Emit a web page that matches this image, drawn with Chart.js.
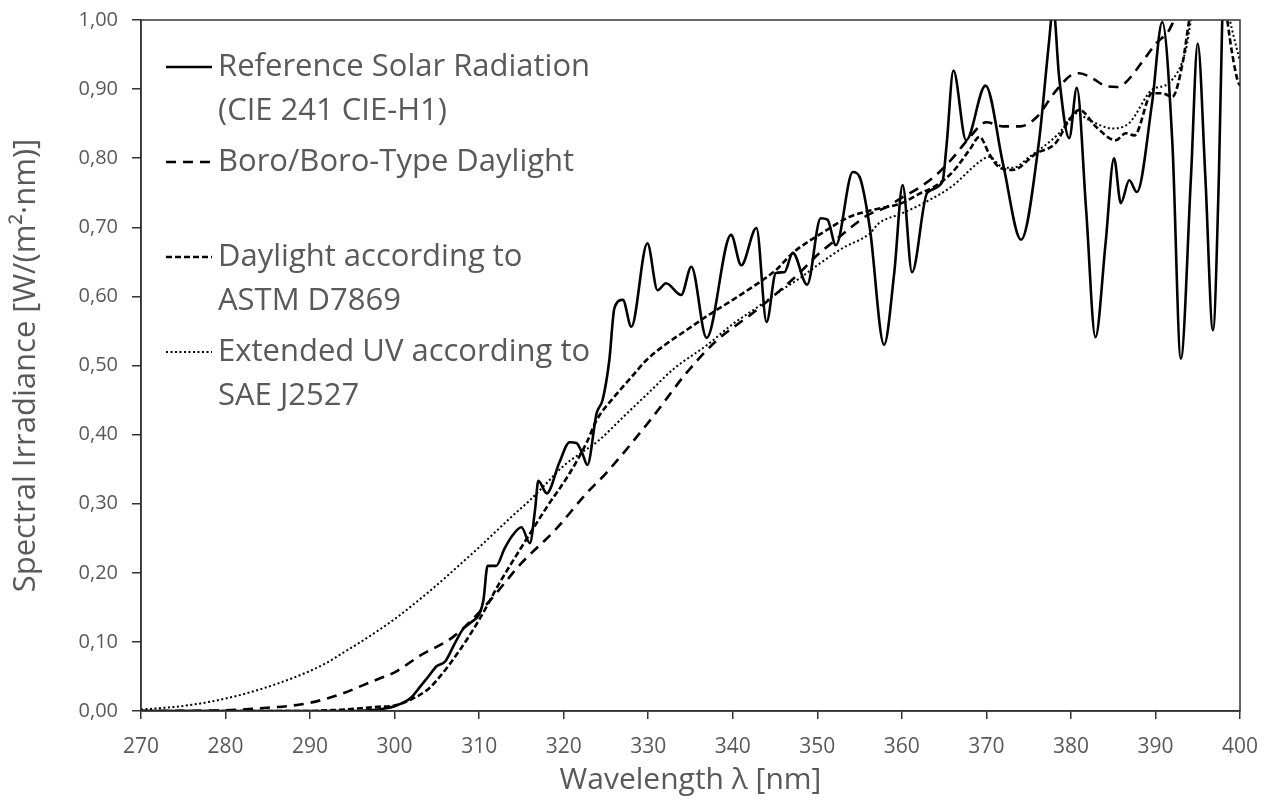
<!DOCTYPE html>
<html>
<head>
<meta charset="utf-8">
<script src="https://cdn.jsdelivr.net/npm/chart.js@4/dist/chart.umd.min.js"></script>
<style>
  html, body { margin: 0; padding: 0; background: #fff; }
  #wrap { width: 1270px; height: 800px; }
</style>
</head>
<body>
<div id="wrap"><canvas id="chart" width="1270" height="800"></canvas></div>
<script>
// wavelength [nm] / spectral irradiance [W/(m²·nm)]
const refX = [270, 280, 290, 295, 297, 299, 300, 301, 302, 303, 304, 305, 306, 307, 308, 309, 310, 310.5, 311, 312, 313, 314, 315, 316, 316.6, 317, 318, 319.5, 320.7, 321.5, 322.2, 322.8, 323.9, 324.6, 325.4, 326, 327, 328, 329.9, 331.1, 332.1, 333.9, 335.1, 336.9, 339.8, 341, 342.8, 344, 345.1, 346.1, 347.1, 348.8, 350.4, 351.2, 352.2, 354.2, 355, 356.2, 357.9, 359.1, 360.1, 361.2, 363, 364.8, 365.3, 366.1, 367.6, 369.9, 372, 374.1, 376.2, 377.4, 377.9, 378.6, 379.8, 380.7, 381.8, 382.9, 384.1, 385.1, 385.9, 386.9, 387.8, 389.6, 390.8, 392, 393, 394.2, 395, 395.9, 396.8, 397.5, 397.9, 398.3, 400];
const refY = [0, 0, 0, 0, 0.001, 0.004, 0.007, 0.012, 0.02, 0.035, 0.05, 0.065, 0.072, 0.095, 0.117, 0.128, 0.14, 0.16, 0.21, 0.21, 0.235, 0.255, 0.266, 0.243, 0.29, 0.333, 0.315, 0.36, 0.389, 0.388, 0.373, 0.356, 0.431, 0.45, 0.508, 0.583, 0.595, 0.556, 0.677, 0.609, 0.619, 0.602, 0.643, 0.54, 0.689, 0.645, 0.699, 0.563, 0.634, 0.635, 0.663, 0.617, 0.713, 0.711, 0.674, 0.78, 0.773, 0.70, 0.53, 0.634, 0.761, 0.635, 0.75, 0.766, 0.82, 0.927, 0.826, 0.905, 0.79, 0.682, 0.822, 0.967, 1.02, 0.918, 0.829, 0.902, 0.725, 0.541, 0.677, 0.80, 0.735, 0.768, 0.751, 0.88, 0.997, 0.822, 0.51, 0.773, 0.966, 0.773, 0.551, 0.773, 1.0, 1.1, 1.1];

const boroX = [270, 280, 284, 288, 290, 292, 294, 296, 298, 300, 303, 307, 311, 315, 319, 322.7, 325, 330.5, 334.5, 338, 342.8, 347.9, 350, 352, 354, 356, 358, 360, 362, 364, 366, 368, 370, 372, 374, 376, 378, 380, 381, 382.5, 384, 385.5, 386.5, 388.9, 390, 391.6, 392.2, 393];
const boroY = [0, 0.001, 0.004, 0.008, 0.012, 0.018, 0.026, 0.036, 0.046, 0.056, 0.08, 0.108, 0.156, 0.214, 0.262, 0.315, 0.344, 0.425, 0.489, 0.535, 0.58, 0.634, 0.66, 0.68, 0.70, 0.718, 0.728, 0.743, 0.757, 0.775, 0.80, 0.83, 0.852, 0.846, 0.846, 0.86, 0.894, 0.92, 0.923, 0.916, 0.905, 0.903, 0.91, 0.947, 0.965, 0.985, 1.0, 1.02];

const astmX = [270, 290, 292, 294, 296, 298, 300, 302, 304, 305.3, 307.7, 310, 312.4, 315, 318, 320.7, 322.7, 323.9, 326, 328, 329.8, 332, 334.5, 337, 340, 342.5, 345.1, 347.1, 350.6, 353.8, 356.5, 360, 362, 364, 366, 368, 369.2, 370.3, 371.5, 373.1, 375.9, 378.2, 379.8, 381, 383, 385.3, 386.5, 387.5, 389.6, 390.8, 392, 393.2, 394, 395, 398, 398.5, 399.7, 400];
const astmY = [0, 0, 0.001, 0.002, 0.004, 0.006, 0.008, 0.017, 0.032, 0.049, 0.088, 0.132, 0.185, 0.237, 0.295, 0.344, 0.388, 0.421, 0.455, 0.483, 0.508, 0.53, 0.551, 0.572, 0.595, 0.615, 0.638, 0.663, 0.692, 0.715, 0.725, 0.735, 0.748, 0.76, 0.78, 0.812, 0.831, 0.807, 0.787, 0.783, 0.807, 0.822, 0.855, 0.87, 0.845, 0.826, 0.836, 0.833, 0.894, 0.894, 0.889, 0.937, 1.0, 1.06, 1.06, 1.0, 0.913, 0.905];

const saeX = [270, 272, 274, 276, 278, 280, 282, 284, 286, 288, 290, 292, 294, 296, 298, 300, 302, 304, 306, 308, 310, 312, 314, 316, 318, 320, 322, 324, 327, 330, 333, 337, 340, 343, 345.5, 348, 350, 353, 356.2, 357.3, 360, 363.2, 366, 369.2, 370.3, 371.9, 373.1, 375.1, 378.6, 380.6, 382.2, 384.9, 386.9, 389.6, 391.6, 393.6, 394.2, 395, 398, 398.8, 400];
const saeY = [0.002, 0.004, 0.006, 0.009, 0.013, 0.018, 0.024, 0.031, 0.039, 0.048, 0.058, 0.07, 0.085, 0.1, 0.116, 0.133, 0.152, 0.172, 0.193, 0.215, 0.237, 0.26, 0.283, 0.305, 0.33, 0.355, 0.373, 0.39, 0.425, 0.46, 0.495, 0.53, 0.56, 0.585, 0.607, 0.627, 0.645, 0.67, 0.691, 0.706, 0.72, 0.739, 0.76, 0.795, 0.802, 0.787, 0.786, 0.802, 0.836, 0.865, 0.855, 0.843, 0.851, 0.899, 0.909, 0.957, 1.0, 1.05, 1.05, 1.0, 0.94];

const xTicks = [270, 280, 290, 300, 310, 320, 330, 340, 350, 360, 370, 380, 390, 400];

const seriesNames = [
    ['Reference Solar Radiation', '(CIE 241 CIE-H1)'],
    ['Boro/Boro-Type Daylight'],
    ['Daylight according to', 'ASTM D7869'],
    ['Extended UV according to', 'SAE J2527']
];

const toPoints = (xs, ys) => xs.map((x, i) => ({ x: x, y: ys[i] }));

const grey = '#595959';
const fontFamily = "'Open Sans', 'Noto Sans', sans-serif";

// in-plot legend drawn with canvas text, like the original
const legendPlugin = {
    id: 'plotLegend',
    afterDatasetsDraw(chart) {
        const ctx = chart.ctx;
        const rows = [67, 162, 257, 352];
        ctx.save();
        chart.data.datasets.forEach((ds, i) => {
            const y = rows[i];
            ctx.beginPath();
            ctx.strokeStyle = ds.borderColor;
            ctx.lineWidth = ds.borderWidth;
            ctx.setLineDash(ds.borderDash || []);
            ctx.moveTo(166, y);
            ctx.lineTo(212, y);
            ctx.stroke();
            ctx.setLineDash([]);
            ctx.fillStyle = grey;
            ctx.font = '31px ' + fontFamily;
            ctx.textBaseline = 'middle';
            ctx.textAlign = 'left';
            seriesNames[i].forEach((line, j) => {
                ctx.fillText(line, 218, y + j * 44);
            });
        });
        ctx.restore();
    }
};

// box around the plot area
const framePlugin = {
    id: 'frame',
    afterDraw(chart) {
        const a = chart.chartArea;
        const ctx = chart.ctx;
        ctx.save();
        ctx.strokeStyle = '#333';
        ctx.lineWidth = 1.5;
        ctx.strokeRect(a.left, a.top, a.right - a.left, a.bottom - a.top);
        ctx.restore();
    }
};

const ctx = document.getElementById('chart').getContext('2d');
new Chart(ctx, {
    type: 'line',
    data: {
        datasets: [
            {
                label: seriesNames[0].join(' '),
                data: toPoints(refX, refY),
                borderColor: '#000',
                borderWidth: 2.6,
                borderDash: [],
                cubicInterpolationMode: 'monotone'
            },
            {
                label: seriesNames[1].join(' '),
                data: toPoints(boroX, boroY),
                borderColor: '#000',
                borderWidth: 2.6,
                borderDash: [10, 7],
                cubicInterpolationMode: 'monotone'
            },
            {
                label: seriesNames[2].join(' '),
                data: toPoints(astmX, astmY),
                borderColor: '#000',
                borderWidth: 2.6,
                borderDash: [6, 3],
                cubicInterpolationMode: 'monotone'
            },
            {
                label: seriesNames[3].join(' '),
                data: toPoints(saeX, saeY),
                borderColor: '#000',
                borderWidth: 2,
                borderDash: [2, 2.5],
                cubicInterpolationMode: 'monotone'
            }
        ]
    },
    options: {
        responsive: false,
        animation: false,
        events: [],
        elements: { point: { radius: 0 } },
        layout: { padding: { left: 0, top: 20, right: 30, bottom: 0 } },
        plugins: {
            legend: { display: false },
            tooltip: { enabled: false }
        },
        scales: {
            x: {
                type: 'linear',
                min: 270,
                max: 400,
                afterFit: (scale) => {
                    scale.height = 89;
                    scale.paddingLeft = 0;
                    scale.paddingRight = 0;
                },
                afterBuildTicks: (scale) => { scale.ticks = xTicks.map(v => ({ value: v })); },
                border: { display: true, color: '#333', width: 1.5 },
                grid: { drawOnChartArea: false, drawTicks: true, tickLength: 8, color: '#333', lineWidth: 1.5 },
                ticks: { color: grey, font: { size: 21, family: fontFamily }, padding: 15, maxRotation: 0 },
                title: { display: true, text: 'Wavelength λ [nm]', color: grey, font: { size: 30, family: fontFamily }, padding: { top: 0, bottom: 2 } }
            },
            y: {
                min: 0,
                max: 1,
                afterFit: (scale) => {
                    scale.width = 141;
                    scale.paddingTop = 0;
                    scale.paddingBottom = 0;
                },
                border: { display: true, color: '#333', width: 1.5 },
                grid: { drawOnChartArea: false, drawTicks: true, tickLength: 9, color: '#333', lineWidth: 1.5 },
                ticks: {
                    stepSize: 0.1,
                    color: grey,
                    font: { size: 20, family: fontFamily },
                    padding: 14,
                    callback: (v) => v.toFixed(2).replace('.', ',')
                },
                title: { display: true, text: 'Spectral Irradiance [W/(m²·nm)]', color: grey, font: { size: 31, family: fontFamily }, padding: { top: 8, bottom: 0 } }
            }
        }
    },
    plugins: [legendPlugin, framePlugin]
});
</script>
</body>
</html>
